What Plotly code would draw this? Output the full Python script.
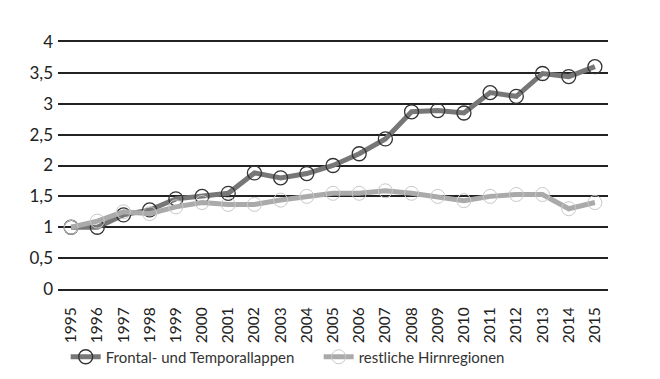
import plotly.graph_objects as go

years = list(range(1995, 2016))
frontal = [1.0, 1.0, 1.2, 1.28, 1.46, 1.5, 1.55, 1.88, 1.8, 1.87, 2.0,
           2.19, 2.43, 2.87, 2.89, 2.85, 3.18, 3.12, 3.49, 3.44, 3.6]
rest = [1.0, 1.1, 1.25, 1.22, 1.33, 1.4, 1.37, 1.37, 1.44, 1.5, 1.55,
        1.55, 1.59, 1.55, 1.5, 1.43, 1.5, 1.53, 1.53, 1.3, 1.4]
ytickvals = [0, 0.5, 1, 1.5, 2, 2.5, 3, 3.5, 4]
yticktext = ["0", "0,5", "1", "1,5", "2", "2,5", "3", "3,5", "4"]

fig = go.Figure()
fig.add_trace(go.Scatter(
    x=years, y=frontal, name="Frontal- und Temporallappen", mode="lines+markers",
    line=dict(color="#777777", width=5),
    marker=dict(symbol="circle-open", size=14, color="#333333", line=dict(width=1.3)),
))
fig.add_trace(go.Scatter(
    x=years, y=rest, name="restliche Hirnregionen", mode="lines+markers",
    line=dict(color="#aaaaaa", width=5),
    marker=dict(symbol="circle-open", size=14, color="#c8c8c8", line=dict(width=1)),
))

fig.update_layout(
    width=660, height=379,
    margin=dict(l=58, r=52, t=42, b=90),
    paper_bgcolor="white", plot_bgcolor="white",
    font=dict(family="Lato, Open Sans, sans-serif", size=17, color="#222222"),
    showlegend=True,
    legend=dict(orientation="h", xref="container", yref="container",
                x=0.0995, xanchor="left", y=1 - 357 / 379, yanchor="middle",
                font=dict(size=15, color="#333333"), itemwidth=30, entrywidth=208,
                bgcolor="rgba(0,0,0,0)"),
    xaxis=dict(range=[1994.5, 2015.5], tickmode="array", tickvals=years,
               ticktext=[str(y) for y in years], tickangle=-90,
               tickfont=dict(size=15.5), automargin=False, ticklabelstandoff=10,
               showline=True, mirror=True, linecolor="#222222", linewidth=2,
               showgrid=False, zeroline=False, ticks=""),
    yaxis=dict(range=[0, 4], tickvals=ytickvals, ticktext=yticktext, automargin=False,
               tickfont=dict(size=17),
               showgrid=True, gridcolor="#222222", gridwidth=2,
               zeroline=False, showline=False, ticks="", ticklabelstandoff=4),
)
fig.write_html("out.html", config={"displayModeBar": False},
               post_script="document.body.style.margin='0';")
